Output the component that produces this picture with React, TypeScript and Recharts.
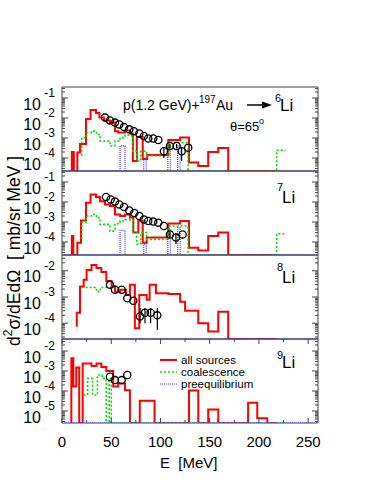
import React from 'react';
import {
  ComposedChart,
  Line,
  Scatter,
  XAxis,
  YAxis,
  ErrorBar,
  ReferenceArea,
} from 'recharts';

// Energy axis (MeV)
const E_MAX = 260;
const X_TICKS = [0, 25, 50, 75, 100, 125, 150, 175, 200, 225, 250];
const X_MAJOR = [0, 50, 100, 150, 200, 250];

// Histograms: [E where the step starts, value in mb/(sr MeV)], 0 = empty bin
const RED_6 = [
  [10, 0], [10, 2.0e-4], [12, 0], [15.6, 1.9e-4], [18.3, 5.0e-4], [24.4, 8.9e-3],
  [29, 2.5e-2], [34.5, 1.8e-2], [38, 1.05e-2], [42.6, 7.6e-3], [48.7, 5.9e-3],
  [53.8, 2.2e-3], [57, 1.9e-3], [64, 2.4e-3], [69, 1.7e-3], [72, 7.1e-5],
  [76, 1.12e-3], [82, 8.9e-5], [86.5, 1.4e-4], [108, 7.9e-4], [120, 1.05e-3],
  [129, 5.9e-5], [138.4, 4.0e-5], [148.5, 2.0e-4], [158.7, 3.2e-4], [168.8, 0], [218, 0],
];
const GREEN_6 = [
  [20, 1.3e-4], [20, 1.05e-3], [25, 1.9e-3], [30, 2.2e-3], [35, 1.5e-3], [38.6, 7.0e-4],
  [48.7, 4.0e-4], [53.8, 7.0e-4], [59, 1.05e-3], [64, 1.4e-3], [69, 1.3e-3], [72, 2.2e-4],
  [76, 7.0e-5], [80, 2.2e-4], [86, 1.3e-4], [108, 5.9e-4], [128, 0], [218, 2.4e-4], [227, 2.4e-4],
];
const BLUE_6 = [
  [0, 0], [59, 4.0e-4], [64, 0], [83, 8.5e-5], [85.5, 0], [107.5, 4.0e-4], [110, 0],
  [117.5, 4.0e-4], [120, 0], [260, 0],
];
// Measured points: [E, value, error down, error up]
const DATA_6 = [
  [43.7, 1.05e-2, 0, 0], [48.7, 7.6e-3, 0, 0], [53.8, 5.9e-3, 0, 0], [58.2, 4.8e-3, 0, 0],
  [63, 3.5e-3, 0, 0], [68.3, 2.7e-3, 0, 0], [73.1, 2.2e-3, 0, 0], [78.5, 1.7e-3, 0, 0],
  [83.2, 1.26e-3, 0, 0], [87.6, 9.5e-4, 0, 0], [92.7, 9.5e-4, 0, 0], [97.8, 7.9e-4, 0, 0],
  [103.5, 2.2e-4, 1.2e-4, 1.0e-4], [109.6, 4.0e-4, 1.0e-4, 1.0e-4], [116.4, 4.0e-4, 1.0e-4, 1.0e-4],
  [121.5, 2.2e-4, 1.5e-4, 1.0e-4], [128.2, 3.3e-4, 0, 0],
];

const RED_7 = [
  [10, 0], [10, 2.0e-4], [11.5, 0], [15.6, 9.3e-5], [19.3, 1.2e-3], [24.4, 9.3e-3],
  [29, 2.4e-2], [34.5, 1.8e-2], [38.6, 1.1e-2], [43.7, 7.6e-3], [48.7, 6.3e-3],
  [53.8, 2.4e-3], [59, 2.0e-3], [64, 2.4e-3], [69, 1.7e-3], [72.4, 3.0e-4], [77.5, 1.2e-3],
  [82, 9.3e-5], [86, 1.66e-4], [108, 8.3e-4], [120, 1.12e-3], [129, 5.2e-5], [138.4, 3.8e-5],
  [148.5, 2.0e-4], [158.7, 3.0e-4], [168.8, 0], [218, 0],
];
const GREEN_7 = [
  [20, 1.4e-4], [20, 9.3e-4], [24.4, 2.0e-3], [30, 2.4e-3], [35, 1.66e-3], [38.6, 7.6e-4],
  [48.7, 3.5e-4], [53.8, 8.3e-4], [59, 1.12e-3], [64, 1.3e-3], [69, 1.2e-3], [72, 3.0e-4],
  [76, 7.9e-5], [80, 3.0e-4], [86, 1.35e-4], [108, 6.3e-4], [128, 0], [218, 2.6e-4], [227, 2.6e-4],
];
const BLUE_7 = [
  [0, 0], [59, 3.8e-4], [64, 0], [83, 7.9e-5], [85.5, 0], [107.5, 4.5e-4], [110, 0],
  [117.5, 5.2e-4], [120, 0], [260, 0],
];
const DATA_7 = [
  [44.7, 1.8e-2, 0, 0], [49.4, 1.35e-2, 0, 0], [53.8, 1.05e-2, 0, 0], [58.2, 7.6e-3, 0, 0],
  [63, 5.6e-3, 0, 0], [68.3, 3.8e-3, 0, 0], [73.4, 2.8e-3, 0, 0], [78.5, 2.0e-3, 0, 0],
  [83.2, 1.35e-3, 0, 0], [87.6, 1.12e-3, 0, 0], [92.7, 1.05e-3, 0, 0], [97.8, 9.3e-4, 0, 0],
  [103.5, 6.3e-4, 0, 0], [109.6, 2.4e-4, 6.0e-5, 8.0e-5], [115.7, 1.66e-4, 8.7e-5, 1.0e-4],
  [122.5, 2.4e-4, 0, 0],
];

const RED_8 = [
  [15, 7.4e-5], [15, 2.5e-4], [18.3, 2.5e-3], [22, 4.5e-3], [25, 1.07e-2], [30, 1.66e-2],
  [35, 1.26e-2], [40, 8.9e-3], [45, 4.1e-3], [50.4, 2.5e-3], [53.8, 1.6e-3], [59, 1.9e-3],
  [65, 1.2e-3], [69, 2.9e-3], [74, 6.5e-5], [78.5, 1.2e-3], [86, 7.8e-4], [89, 2.9e-3],
  [95.4, 1.4e-3], [108, 1.3e-3], [120, 6.6e-4], [125, 3.0e-4], [138.4, 1.0e-4],
  [148.5, 4.8e-5], [158.7, 2.75e-4], [168.8, 0], [218, 0],
];
const GREEN_8 = [[20, 2.3e-3], [35, 1.6e-3], [39, 2.3e-3], [50, 2.3e-3]];
const BLUE_8 = [[0, 0], [260, 0]];
const DATA_8 = [
  [48.7, 2.9e-3, 0, 0], [53.8, 1.9e-3, 0, 0], [60.6, 1.9e-3, 0, 0], [66.3, 8.9e-4, 0, 0],
  [72.4, 7.2e-4, 0, 0], [79.2, 1.8e-4, 8.0e-5, 2.0e-4], [84.3, 2.5e-4, 1.5e-4, 1.3e-4],
  [90, 2.5e-4, 1.5e-4, 1.3e-4], [96.8, 2.0e-4, 1.45e-4, 1.8e-4],
];

const RED_9 = [
  [9.5, 0], [9.5, 4.3e-3], [11.5, 1.7e-4], [14.5, 1.5e-3], [17.5, 0], [21, 2.4e-3],
  [30, 1.8e-3], [35, 2.4e-3], [40, 1.6e-3], [45, 1.0e-3], [52, 1.66e-4], [57, 2.4e-4],
  [64, 1.1e-4], [69, 0], [79, 3.3e-5], [94, 0], [129, 1.05e-4], [138.4, 0], [148.5, 1.2e-5],
  [158.7, 0], [189, 2.6e-5], [198.3, 4.3e-6], [208.5, 0], [218, 0],
];
const GREEN_9 = [
  [22, 6.3e-5], [26, 4.3e-4], [31, 6.3e-5], [36, 6.3e-4], [41, 4.3e-4], [45, 0],
  [48, 4.3e-4], [50, 0], [227, 0],
];
const BLUE_9 = [[0, 0], [260, 0]];
const DATA_9 = [
  [48.7, 5.2e-4, 0, 0], [53.8, 3.5e-4, 0, 0], [60.6, 3.5e-4, 0, 0], [66.3, 6.3e-4, 0, 0],
];

// y ranges (log10) and labelled decades of each pad
const RANGE_6 = [-4.65, -0.45];
const RANGE_7 = [-4.65, -0.45];
const RANGE_8 = [-4.6, -1.4];
const RANGE_9 = [-5.6, -1.4];
const DECADES_6 = [-1, -2, -3, -4];
const DECADES_7 = [-1, -2, -3, -4];
const DECADES_8 = [-2, -3, -4];
const DECADES_9 = [-2, -3, -4, -5];

const FONT = '"Liberation Sans", Arial, Helvetica, sans-serif';
const FRAME = '#444';
const LEFT = 62;
const PLOT_W = 256;
const PANEL_H = 84;
const PAD = 2;

interface PanelDef {
  top: number;
  range: number[];
  decades: number[];
  red: number[][];
  green: number[][];
  blue: number[][];
  points: number[][];
}

const PANELS: PanelDef[] = [
  { top: 87, range: RANGE_6, decades: DECADES_6, red: RED_6, green: GREEN_6, blue: BLUE_6, points: DATA_6 },
  { top: 171, range: RANGE_7, decades: DECADES_7, red: RED_7, green: GREEN_7, blue: BLUE_7, points: DATA_7 },
  { top: 255, range: RANGE_8, decades: DECADES_8, red: RED_8, green: GREEN_8, blue: BLUE_8, points: DATA_8 },
  { top: 339, range: RANGE_9, decades: DECADES_9, red: RED_9, green: GREEN_9, blue: BLUE_9, points: DATA_9 },
];

function logTicks(range: number[]) {
  const out: number[] = [];
  for (let n = Math.floor(range[0]); n <= Math.ceil(range[1]); n++) {
    for (let k = 1; k <= 9; k++) {
      const v = k * Math.pow(10, n);
      const l = Math.log10(v);
      if (l >= range[0] - 1e-9 && l <= range[1] + 1e-9) out.push(v);
    }
  }
  return out;
}

function Panel({ p, last }: { p: PanelDef; last: boolean }) {
  const floor = Math.pow(10, p.range[0]);
  const ceil = Math.pow(10, p.range[1]);
  const hist = (h: number[][]) => h.map(([e, v]) => ({ e, v: v > 0 ? v : floor }));
  const pts = p.points.map(([e, v, lo, hi]) => ({ e, v, err: [lo, hi] }));
  const xAxisH = last ? 50 : 0;

  const yTick = ({ x, y, payload }: any) => {
    const l = Math.log10(payload.value);
    const exp = Math.round(l);
    const major = Math.abs(l - exp) < 1e-6 && p.decades.includes(exp);
    const len = major ? 6 : 3;
    return (
      <g>
        <line x1={x} x2={x + len} y1={y} y2={y} stroke={FRAME} />
        <line x1={x + PLOT_W} x2={x + PLOT_W - len} y1={y} y2={y} stroke={FRAME} />
        {major && (
          <>
            <text x={x - 21} y={y + 11.5} textAnchor="end" fontSize={16} fontFamily={FONT} fill="#000">10</text>
            <text x={x - 7} y={y - 1} textAnchor="end" fontSize={12} fontFamily={FONT} fill="#000">{exp}</text>
          </>
        )}
      </g>
    );
  };

  const xTick = ({ x, y, payload }: any) => {
    const major = X_MAJOR.includes(payload.value);
    const len = major ? 5 : 3;
    return (
      <g>
        <line x1={x} x2={x} y1={y} y2={y - len} stroke={FRAME} />
        <line x1={x} x2={x} y1={y - PANEL_H} y2={y - PANEL_H + len} stroke={FRAME} />
        {last && major && (
          <text x={x} y={y + 24} textAnchor="middle" fontSize={15} fontFamily={FONT} fill="#000">
            {payload.value}
          </text>
        )}
      </g>
    );
  };

  return (
    <div style={{ position: 'absolute', left: 0, top: p.top - PAD }}>
      <ComposedChart
        width={382}
        height={PANEL_H + PAD + (last ? xAxisH : PAD)}
        margin={{ top: PAD, right: 382 - LEFT - PLOT_W, bottom: last ? 0 : PAD, left: 0 }}
      >
        <XAxis
          type="number"
          dataKey="e"
          domain={[0, E_MAX]}
          ticks={X_TICKS}
          interval={0}
          tickSize={0}
          tickMargin={0}
          axisLine={false}
          tickLine={false}
          height={xAxisH}
          tick={xTick}
          allowDataOverflow
        />
        <YAxis
          type="number"
          dataKey="v"
          scale="log"
          domain={[floor, ceil]}
          ticks={logTicks(p.range)}
          interval={0}
          tickSize={0}
          tickMargin={0}
          axisLine={false}
          tickLine={false}
          width={LEFT}
          tick={yTick}
          allowDataOverflow
        />
        <ReferenceArea x1={0} x2={E_MAX} y1={floor} y2={ceil} fill="none" stroke={FRAME} strokeWidth={1} />
        <Line data={hist(p.red)} type="stepAfter" dataKey="v" stroke="#ff0000" strokeWidth={2} dot={false} isAnimationActive={false} />
        <Line data={hist(p.green)} type="stepAfter" dataKey="v" stroke="#00e000" strokeWidth={1.6} strokeDasharray="2 2" dot={false} isAnimationActive={false} />
        <Line data={hist(p.blue)} type="stepAfter" dataKey="v" stroke="#3a3aff" strokeWidth={1.2} strokeDasharray="1 1" dot={false} isAnimationActive={false} />
        <Scatter
          data={pts}
          dataKey="v"
          isAnimationActive={false}
          shape={(s: any) => <circle cx={s.cx} cy={s.cy} r={3.6} fill="none" stroke="#000" strokeWidth={1.3} />}
        >
          <ErrorBar dataKey="err" direction="y" width={0} stroke="#000" strokeWidth={1.2} />
        </Scatter>
      </ComposedChart>
    </div>
  );
}

function Iso({ x, yMass, yLi, mass }: { x: number; yMass: number; yLi: number; mass: number }) {
  return (
    <>
      <text x={x} y={yMass} fontSize={11}>{mass}</text>
      <text x={x + 5} y={yLi} fontSize={17}>Li</text>
    </>
  );
}

export default function App() {
  return (
    <div style={{ position: 'absolute', left: 0, top: 0, width: 382, height: 494, background: '#fff' }}>
      {PANELS.map((p, i) => (
        <Panel key={i} p={p} last={i === PANELS.length - 1} />
      ))}
      <svg
        width={382}
        height={494}
        style={{ position: 'absolute', left: 0, top: 0, pointerEvents: 'none' }}
        fontFamily={FONT}
        fill="#000"
      >
        {/* reaction label */}
        <text x={123} y={110} fontSize={14}>p(1.2 GeV)+</text>
        <text x={199} y={103} fontSize={10}>197</text>
        <text x={216} y={110} fontSize={14}>Au</text>
        <line x1={247} y1={105} x2={264} y2={105} stroke="#000" strokeWidth={1.5} />
        <polygon points="262,101.5 272,105 262,108.5" fill="#000" />
        <Iso x={275} yMass={102} yLi={111} mass={6} />
        <text x={230} y={131} fontSize={13}>θ=65</text>
        <text x={259} y={124} fontSize={9}>o</text>

        <Iso x={277} yMass={191} yLi={203} mass={7} />
        <Iso x={277} yMass={271} yLi={283} mass={8} />
        <Iso x={277} yMass={359} yLi={368} mass={9} />

        {/* legend */}
        <line x1={160} x2={177} y1={360} y2={360} stroke="#ff0000" strokeWidth={2} />
        <text x={181} y={364} fontSize={11.5}>all sources</text>
        <line x1={160} x2={177} y1={372} y2={372} stroke="#00e000" strokeWidth={1.6} strokeDasharray="2 2" />
        <text x={181} y={376} fontSize={11.5}>coalescence</text>
        <line x1={160} x2={177} y1={384} y2={384} stroke="#3a3aff" strokeWidth={1.2} strokeDasharray="1 1" />
        <text x={181} y={388} fontSize={11.5}>preequilibrium</text>

        {/* axis titles */}
        <text x={160} y={468} fontSize={15} style={{ whiteSpace: 'pre' }}>E  [MeV]</text>
        <text
          x={14}
          y={251}
          fontSize={17.5}
          textAnchor="middle"
          dominantBaseline="central"
          transform="rotate(-90 14 251)"
          style={{ whiteSpace: 'pre' }}
        >
          d<tspan dy={-6} fontSize={12}>2</tspan>
          <tspan dy={6}>σ/dEdΩ  [ mb/sr MeV ]</tspan>
        </text>
      </svg>
    </div>
  );
}
